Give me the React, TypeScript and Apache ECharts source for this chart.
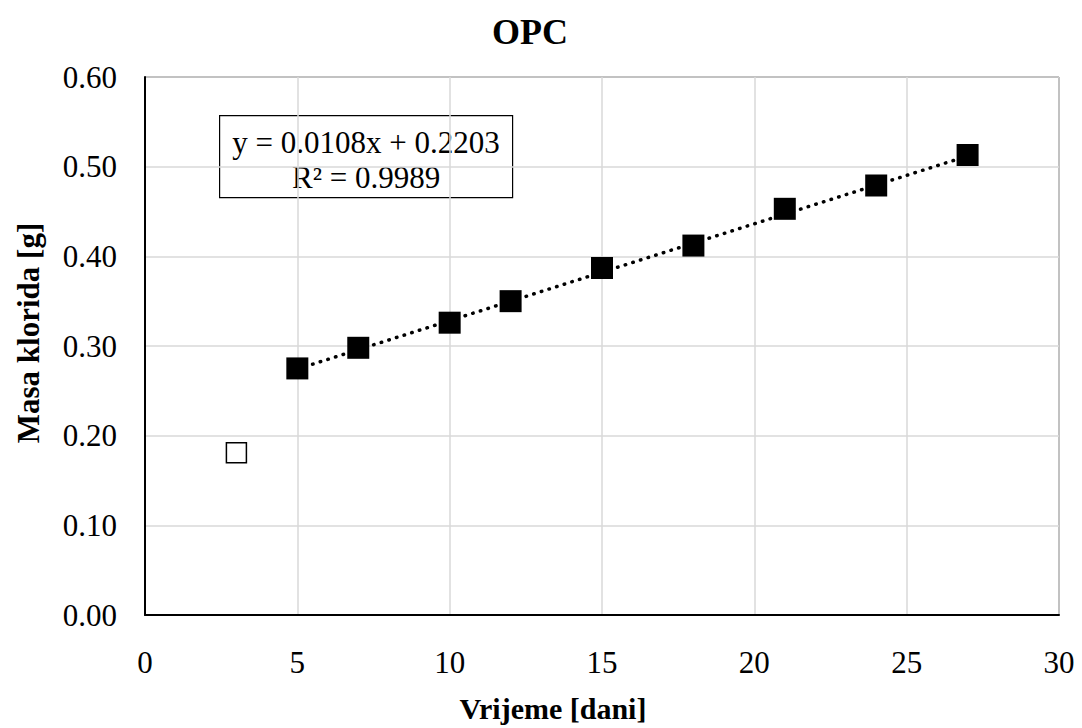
import React, { useEffect, useRef } from "react";
import * as echarts from "echarts";

const days = [5, 7, 10, 12, 15, 18, 21, 24, 27];
const mass = [0.275, 0.298, 0.326, 0.350, 0.387, 0.412, 0.453, 0.479, 0.513];
const outlierDays = [3];
const outlierMass = [0.181];
const trendX = [5, 27];
const trendY = [0.2743, 0.5119];
const xTicks = [0, 5, 10, 15, 20, 25, 30];
const equationText = "y = 0.0108x + 0.2203";
const r2Text = "R² = 0.9989";

const FONT = "'Liberation Serif', 'Times New Roman', serif";

export default function App() {
  const ref = useRef<HTMLDivElement>(null);
  useEffect(() => {
    if (!ref.current) return;
    const chart = echarts.init(ref.current, null, { renderer: "svg" });
    chart.setOption({
      animation: false,
      backgroundColor: "#ffffff",
      title: {
        text: "OPC",
        left: 525,
        top: 9,
        textAlign: "center",
        textStyle: { fontFamily: FONT, fontSize: 36, fontWeight: "bold", color: "#000" },
      },
      grid: {
        left: 145,
        right: 23,
        top: 77,
        bottom: 113,
        show: true,
        borderColor: "#000",
        borderWidth: 1,
      },
      xAxis: {
        type: "value",
        min: xTicks[0],
        max: xTicks[xTicks.length - 1],
        interval: 5,
        axisLine: { show: true, onZero: false, lineStyle: { color: "#000", width: 2 } },
        axisTick: { show: false },
        axisLabel: { fontFamily: FONT, fontSize: 31, color: "#000", margin: 32 },
        splitLine: { show: true, lineStyle: { color: "#d9d9d9", width: 1.5 } },
      },
      yAxis: {
        type: "value",
        min: 0,
        max: 0.6,
        interval: 0.1,
        axisLine: { show: true, lineStyle: { color: "#000", width: 2 } },
        axisTick: { show: false },
        axisLabel: {
          fontFamily: FONT,
          fontSize: 31,
          color: "#000",
          margin: 28,
          formatter: (v: number) => v.toFixed(2),
        },
        splitLine: { show: true, lineStyle: { color: "#d9d9d9", width: 1.5 } },
      },
      series: [
        {
          type: "line",
          data: trendX.map((x, i) => [x, trendY[i]]),
          showSymbol: false,
          symbol: "none",
          lineStyle: { color: "#000", width: 3.5, type: [0.5, 7.5], cap: "round" },
          z: 2,
        },
        {
          type: "scatter",
          data: days.map((d, i) => [d, mass[i]]),
          symbol: "rect",
          symbolSize: 22,
          itemStyle: { color: "#000", opacity: 1 },
          z: 3,
        },
        {
          type: "scatter",
          data: outlierDays.map((d, i) => [d, outlierMass[i]]),
          symbol: "rect",
          symbolSize: 20,
          itemStyle: { color: "#fff", borderColor: "#000", borderWidth: 1.5, opacity: 1 },
          z: 3,
        },
      ],
      graphic: [
        {
          type: "group",
          left: 219,
          top: 115,
          children: [
            {
              type: "rect",
              shape: { x: 0, y: 0, width: 293, height: 82 },
              style: { fill: "#fff", stroke: "#000", lineWidth: 1.2 },
            },
            {
              type: "text",
              x: 146.5,
              y: 9,
              style: {
                text: equationText + "\n" + r2Text,
                align: "center",
                verticalAlign: "top",
                fontFamily: FONT,
                fontSize: 31,
                lineHeight: 35,
                fill: "#000",
              },
            },
          ],
        },
        {
          type: "text",
          x: 553,
          y: 708,
          style: {
            text: "Vrijeme [dani]",
            align: "center",
            verticalAlign: "middle",
            fontFamily: FONT,
            fontSize: 30,
            fontWeight: "bold",
            fill: "#000",
          },
        },
        {
          type: "text",
          x: 28,
          y: 333,
          rotation: Math.PI / 2,
          style: {
            text: "Masa klorida [g]",
            align: "center",
            verticalAlign: "middle",
            fontFamily: FONT,
            fontSize: 31,
            fontWeight: "bold",
            fill: "#000",
          },
        },
      ],
    });
    return () => chart.dispose();
  }, []);
  return <div ref={ref} style={{ width: 1082, height: 728, position: "absolute", left: 0, top: 0 }} />;
}
